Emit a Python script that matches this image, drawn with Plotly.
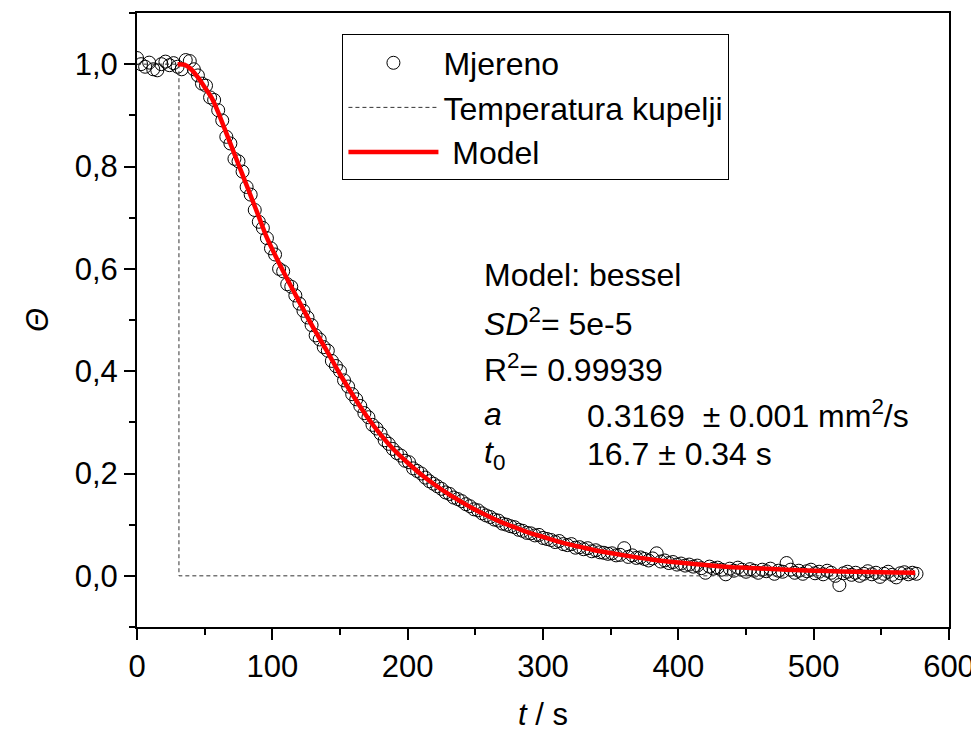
import plotly.graph_objects as go

# ---------------- data ----------------
# measured samples (t in s, Theta dimensionless), read from the picture
t_meas = list(range(0, 577, 3))
theta_meas = [
    1.012, 1.000, 0.995, 1.003, 0.990, 0.988, 1.000, 1.005, 0.998, 1.002,
    0.995, 0.990, 1.008, 1.006, 0.990, 0.978, 0.962, 0.958, 0.935, 0.930,
    0.910, 0.890, 0.858, 0.845, 0.815, 0.810, 0.790, 0.760, 0.745, 0.715,
    0.692, 0.680, 0.660, 0.640, 0.628, 0.600, 0.595, 0.570, 0.565, 0.548,
    0.532, 0.518, 0.505, 0.490, 0.470, 0.462, 0.447, 0.440, 0.420, 0.410,
    0.400, 0.382, 0.370, 0.355, 0.345, 0.332, 0.318, 0.310, 0.295, 0.288,
    0.278, 0.265, 0.258, 0.248, 0.240, 0.235, 0.225, 0.222, 0.210, 0.205,
    0.200, 0.192, 0.185, 0.180, 0.175, 0.170, 0.163, 0.160, 0.153, 0.150,
    0.146, 0.140, 0.136, 0.130, 0.128, 0.122, 0.118, 0.115, 0.110, 0.108,
    0.102, 0.100, 0.097, 0.095, 0.090, 0.088, 0.084, 0.083, 0.079, 0.080,
    0.074, 0.072, 0.070, 0.066, 0.068, 0.062, 0.060, 0.062, 0.055, 0.056,
    0.052, 0.054, 0.048, 0.050, 0.046, 0.045, 0.043, 0.044, 0.040, 0.041,
    0.054, 0.037, 0.040, 0.035, 0.036, 0.033, 0.030, 0.034, 0.044, 0.028,
    0.030, 0.025, 0.027, 0.022, 0.024, 0.020, 0.022, 0.018, 0.020, 0.015,
    0.006, 0.018, 0.014, 0.016, 0.012, 0.003, 0.014, 0.010, 0.016, 0.012,
    0.008, 0.013, 0.010, 0.006, 0.012, 0.009, 0.014, 0.004, 0.010, 0.008,
    0.025, 0.012, 0.006, 0.010, 0.004, 0.009, 0.012, 0.005, 0.008, 0.003,
    0.010, 0.006, 0.000, -0.018, 0.005, 0.008, 0.002, 0.006, 0.000, 0.004,
    0.009, 0.003, 0.006, -0.002, 0.004, 0.008, 0.002, -0.003, 0.005, 0.007,
    0.003, 0.006, 0.004,
]

# bath temperature step
t_bath = [0, 31, 31, 575]
theta_bath = [1.0, 1.0, 0.0, 0.0]

# fitted model curve
t_model = [30, 35, 40, 45, 50, 55, 60, 65, 70, 75, 80, 85, 90, 95, 100, 110, 120,
           130, 140, 150, 160, 170, 180, 190, 200, 210, 220, 230, 240, 250, 260,
           270, 280, 290, 300, 310, 320, 330, 340, 360, 380, 400, 420, 440, 460,
           480, 500, 520, 540, 560, 575]
theta_model = [1.000, 0.999, 0.990, 0.974, 0.955, 0.935, 0.906, 0.872, 0.838, 0.804,
               0.770, 0.736, 0.702, 0.667, 0.638, 0.585, 0.535, 0.486, 0.441, 0.394,
               0.351, 0.311, 0.276, 0.246, 0.221, 0.198, 0.178, 0.160, 0.144, 0.129,
               0.116, 0.104, 0.094, 0.084, 0.076, 0.068, 0.061, 0.055, 0.049, 0.040,
               0.032, 0.026, 0.021, 0.017, 0.0145, 0.012, 0.010, 0.0085, 0.0075,
               0.0065, 0.006]

x_ticks = [0, 100, 200, 300, 400, 500, 600]
x_ticktext = ["0", "100", "200", "300", "400", "500", "600"]
y_ticks = [0.0, 0.2, 0.4, 0.6, 0.8, 1.0]
y_ticktext = ["0,0", "0,2", "0,4", "0,6", "0,8", "1,0"]

FONT = "Liberation Sans, Arial, sans-serif"
FS = 31

fig = go.Figure()
fig.add_trace(go.Scatter(
    x=t_meas, y=theta_meas, mode="markers", name="Mjereno",
    marker=dict(symbol="circle-open", size=13, color="black", line=dict(width=1, color="black")),
))
fig.add_trace(go.Scatter(
    x=t_bath, y=theta_bath, mode="lines", name="Temperatura kupelji",
    line=dict(color="#333333", width=1, dash="4px,3px"),
))
fig.add_trace(go.Scatter(
    x=t_model, y=theta_model, mode="lines", name="\u00a0Model",
    line=dict(color="#ff0000", width=4.5, shape="spline", smoothing=0.6),
))

# annotation text block
ann_font = dict(family=FONT, size=32, color="black")
left_lines = [
    ("Model: bessel", 0.587),
    ("<i>SD</i><sup>2</sup>= 5e-5", 0.496),
    ("R<sup>2</sup>= 0.99939", 0.407),
    ("<i>a</i>", 0.316),
    ("<i>t</i><sub>0</sub>", 0.238),
]
right_lines = [
    ("0.3169  ± 0.001 mm<sup>2</sup>/s", 0.316),
    ("16.7 ± 0.34 s", 0.238),
]
for txt, yy in left_lines:
    fig.add_annotation(x=255.0, y=yy, xref="x", yref="y", text=txt, showarrow=False,
                       xanchor="left", yanchor="middle", font=ann_font)
for txt, yy in right_lines:
    fig.add_annotation(x=331.0, y=yy, xref="x", yref="y", text=txt, showarrow=False,
                       xanchor="left", yanchor="middle", font=ann_font)

axis_common = dict(
    showline=True, linewidth=2, linecolor="black", mirror=True,
    ticks="outside", ticklen=11, tickwidth=2, tickcolor="black",
    showgrid=False, zeroline=False, automargin=False,
    tickfont=dict(family=FONT, size=FS, color="black"),
)
fig.update_xaxes(range=[0, 600], tickvals=x_ticks, ticktext=x_ticktext,
                 minor=dict(dtick=50, ticklen=6, tickwidth=2, tickcolor="black", ticks="outside"),
                 title=dict(text="<i>t</i> / s", font=dict(family=FONT, size=FS, color="black"), standoff=20),
                 **axis_common)
fig.update_yaxes(range=[-0.1, 1.1], tickvals=y_ticks, ticktext=y_ticktext,
                 minor=dict(dtick=0.1, tick0=0, ticklen=6, tickwidth=2, tickcolor="black", ticks="outside"),
                 title=dict(text="<i>Θ</i>", font=dict(family=FONT, size=FS, color="black"), standoff=17),
                 **axis_common)

# the page body adds an 8px offset; the figure is sized so the plot box
# lands where the reference has it
fig.update_layout(
    width=971, height=725,
    margin=dict(l=129, r=30, t=5, b=106),
    paper_bgcolor="white", plot_bgcolor="white",
    font=dict(family=FONT, size=FS, color="black"),
    legend=dict(x=0.253, y=0.965, xanchor="left", yanchor="top",
                bordercolor="black", borderwidth=1, bgcolor="white",
                font=dict(family=FONT, size=32, color="black"),
                itemwidth=90, tracegroupgap=0),
    showlegend=True,
)

fig.write_html("out.html")
